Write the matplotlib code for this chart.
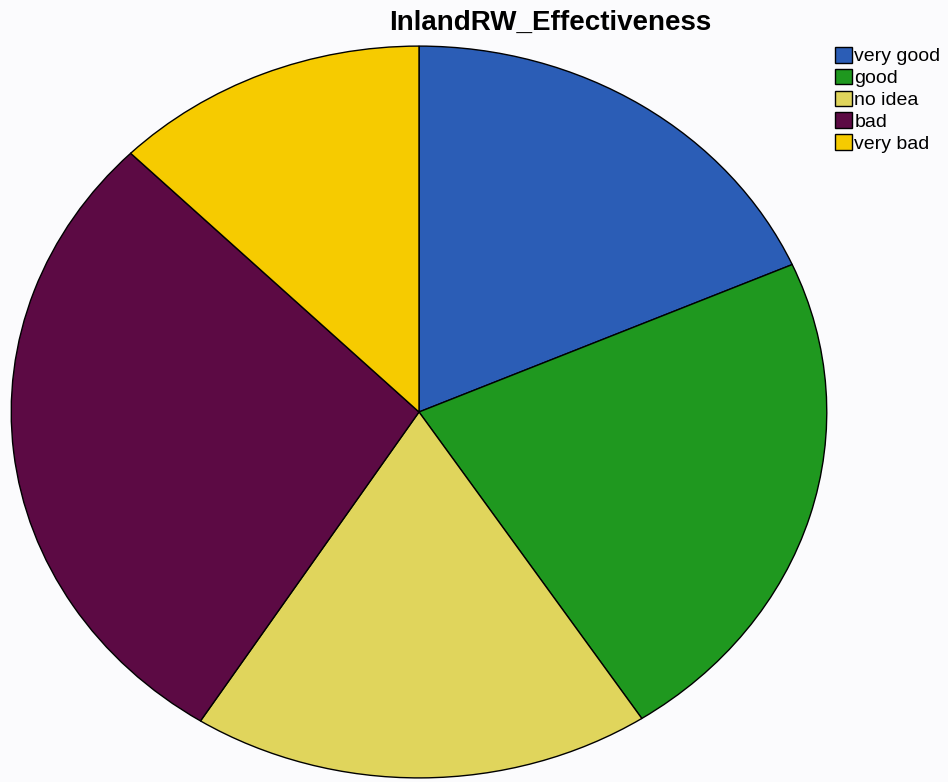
import matplotlib
matplotlib.use("Agg")
import matplotlib.pyplot as plt

# Data (percentages)
labels = ["very good", "good", "no idea", "bad", "very bad"]
percent = [18.4, 22.4, 18.2, 28.5, 12.5]
colors = ["#2b5db6", "#1f981f", "#e0d55c", "#5c0a44", "#f6cb00"]

W, H = 948, 782
fig = plt.figure(figsize=(W / 100, H / 100), dpi=100)
fig.patch.set_facecolor("#fbfbfd")

# pie is stretched into an ellipse, like the scanned original
left, right, top, bottom = 10, 828, 45, 779
ax = fig.add_axes([left / W, 1 - bottom / H, (right - left) / W, (bottom - top) / H])
wedges, _ = ax.pie(percent, colors=colors, startangle=90, counterclock=False,
                   wedgeprops=dict(edgecolor="black", linewidth=1.0))
ax.set_aspect("auto")
ax.set_xlim(-1.003, 1.003)
ax.set_ylim(-1.003, 1.003)
ax.axis("off")

fig.text(550 / W, 1 - 23 / H, "InlandRW_Effectiveness", ha="center", va="center",
         fontsize=20, fontweight="bold", family="Liberation Sans")

fig.legend(wedges, labels, loc="upper left", bbox_to_anchor=(835 / W, 1 - 47 / H),
           frameon=False, prop={"family": "Liberation Sans", "size": 14},
           handlelength=0.85, handleheight=0.85, handletextpad=0.15,
           labelspacing=0.17, borderpad=0, borderaxespad=0)

fig.savefig("out.png", dpi=100, facecolor=fig.get_facecolor())
